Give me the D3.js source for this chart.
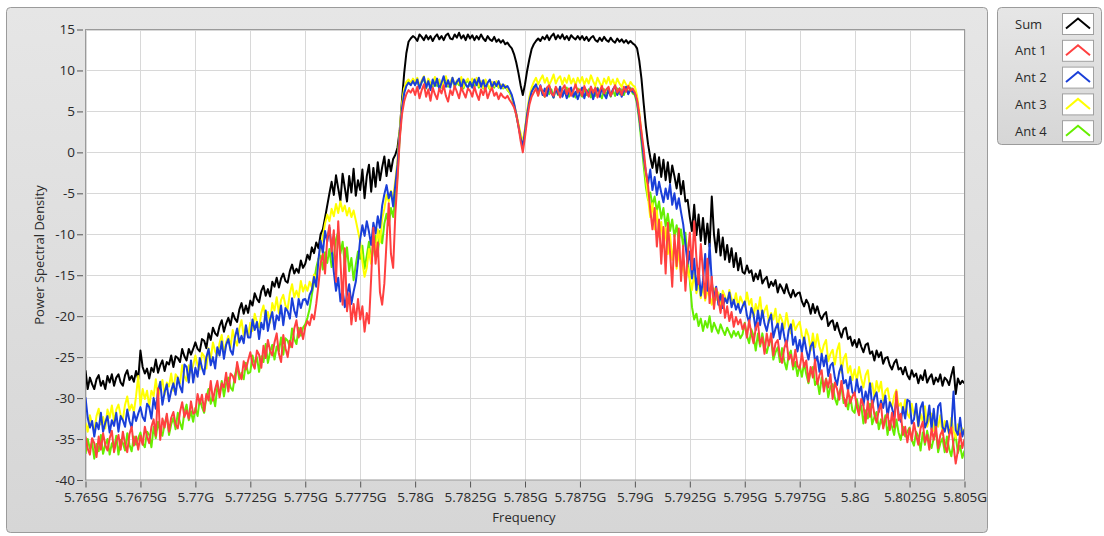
<!DOCTYPE html>
<html><head><meta charset="utf-8">
<script src="https://cdn.jsdelivr.net/npm/d3@7"></script>
<style>
body{margin:0;background:#fff;}
svg{display:block;font-family:"Open Sans","Noto Sans",sans-serif;}
</style>
</head><body>
<svg id="chart" width="1104" height="536"></svg>
<script>
// ---------- data ----------
const freqStartMHz = 5765;
const freqStepMHz = 0.1;
const xTicks = [5.765,5.7675,5.77,5.7725,5.775,5.7775,5.78,5.7825,5.785,5.7875,5.79,5.7925,5.795,5.7975,5.8,5.8025,5.805];
const xTickLabels = ["5.765G","5.7675G","5.77G","5.7725G","5.775G","5.7775G","5.78G","5.7825G","5.785G","5.7875G","5.79G","5.7925G","5.795G","5.7975G","5.8G","5.8025G","5.805G"];
const yTicks = [15,10,5,0,-5,-10,-15,-20,-25,-30,-35,-40];
const seriesNames = ["Sum","Ant 1","Ant 2","Ant 3","Ant 4"];
const seriesColors = ["#000000","#ff4040","#1a3fd8","#ffff00","#66ee00"];

const sumPSD = [
-26.6,-28.9,-27.5,-28.3,-28.9,-27.7,-27.2,-28.5,-27.9,-28.9,-27.3,-28.1,-27.1,-28.5,-27.5,-27.1,-28.1,-28.5,-27.2,-26.6,-27.8,-27.3,-28.0,-26.7,-27.7,
-24.2,-26.2,-27.0,-26.4,-27.6,-26.3,-26.8,-25.3,-26.9,-26.0,-25.4,-26.7,-25.6,-25.9,-24.8,-26.2,-24.9,-25.1,-25.6,-24.0,-24.9,-25.4,-24.0,-24.7,-24.0,
-23.2,-24.0,-24.3,-22.8,-23.0,-23.9,-22.1,-22.9,-21.4,-22.1,-22.4,-21.2,-20.5,-21.9,-20.9,-20.2,-21.1,-19.6,-20.3,-20.7,-19.2,-18.4,-19.7,-18.7,-19.6,
-18.1,-18.7,-17.2,-17.9,-18.3,-16.9,-16.3,-17.5,-16.7,-17.6,-15.8,-16.4,-15.3,-16.5,-15.4,-14.8,-15.7,-15.9,-14.5,-13.7,-14.8,-14.2,-14.7,-13.2,-14.1,
-13.6,-12.5,-13.1,-11.6,-12.3,-11.0,-11.7,-10.0,-9.4,-8.0,-6.5,-5.0,-3.6,-5.2,-2.8,-4.4,-5.9,-2.6,-4.3,-6.0,-2.9,-4.9,-2.0,-5.3,-3.4,
-4.6,-2.1,-5.6,-2.9,-1.5,-4.8,-1.9,-4.2,-1.2,-3.4,-1.8,-0.5,-2.9,-0.9,-2.3,-0.8,-0.3,0.6,2.7,6.3,9.6,12.1,13.5,13.9,14.2,
14.0,13.6,14.4,14.1,13.7,14.3,13.8,14.2,13.6,14.1,14.4,13.8,14.2,13.7,14.3,14.5,13.9,13.8,14.4,14.0,14.6,13.9,14.3,13.7,14.4,
13.9,14.3,13.7,14.2,13.8,14.4,13.9,13.6,14.2,13.8,13.6,14.1,13.5,13.8,13.4,13.7,13.2,13.4,13.0,12.7,12.0,11.0,9.7,8.2,7.0,
8.3,10.0,11.4,12.6,13.2,13.6,13.9,13.6,14.1,13.8,14.3,13.7,14.2,14.5,13.8,14.3,13.9,14.4,13.8,14.2,13.7,14.3,14.0,13.8,14.2,
13.8,14.2,13.7,14.1,13.6,14.0,14.2,13.7,13.5,14.0,13.6,14.1,13.7,13.5,14.0,13.6,13.4,13.9,13.5,13.8,13.4,13.7,13.3,13.6,13.3,
13.1,12.7,11.2,9.0,6.0,3.2,1.0,-0.6,-1.9,-0.2,-2.5,-0.6,-3.0,-0.9,-3.4,-1.2,-3.7,-1.6,-2.9,-4.4,-2.6,-5.1,-3.5,-6.0,-5.8,
-7.9,-9.6,-6.4,-10.1,-7.6,-10.8,-8.0,-11.2,-8.7,-11.5,-5.4,-10.0,-12.2,-9.4,-12.6,-10.4,-13.1,-11.3,-13.4,-11.7,-14.0,-12.3,-14.4,-12.9,-14.6,
-14.8,-13.8,-14.7,-14.4,-15.7,-14.8,-15.5,-14.4,-16.0,-15.5,-15.2,-16.5,-15.8,-16.3,-15.6,-17.1,-16.1,-16.6,-17.2,-16.1,-17.1,-17.7,-16.8,-17.6,-17.2,
-17.1,-18.2,-18.8,-18.0,-18.5,-19.7,-18.5,-19.6,-18.8,-19.8,-20.4,-19.8,-19.5,-21.2,-20.7,-20.5,-21.7,-20.8,-21.8,-22.6,-21.6,-21.4,-22.8,-22.5,-23.6,
-22.9,-23.8,-22.8,-23.7,-24.4,-23.5,-23.3,-24.6,-24.3,-25.4,-24.2,-25.0,-24.4,-25.8,-25.1,-25.0,-26.0,-26.5,-25.7,-25.3,-26.5,-26.3,-27.1,-26.2,-27.2,
-27.7,-26.6,-27.4,-27.0,-28.2,-27.2,-27.8,-26.6,-28.1,-27.5,-27.1,-28.3,-27.5,-28.0,-27.1,-28.5,-27.5,-27.8,-28.4,-27.2,-26.2,-29.5,-27.6,-28.3,-27.9,
-28.2];

const ant1PSD = [
-34.7,-36.2,-36.9,-34.9,-35.5,-37.2,-34.7,-36.3,-34.3,-35.7,-36.4,-34.9,-34.0,-36.6,-35.3,-34.5,-36.3,-34.1,-35.6,-36.6,-34.4,-33.5,-35.8,-34.7,-36.3,
-34.6,-35.7,-33.5,-34.7,-35.5,-33.5,-32.6,-34.6,-28.8,-35.1,-32.5,-33.6,-31.9,-34.1,-32.4,-31.7,-33.2,-33.7,-31.7,-30.5,-32.3,-31.5,-32.5,-30.4,-31.9,
-31.7,-29.5,-30.7,-29.6,-31.6,-29.5,-30.3,-27.9,-30.3,-28.9,-27.9,-29.9,-28.2,-28.7,-26.9,-29.2,-27.0,-27.3,-28.1,-25.6,-27.0,-27.7,-25.5,-26.5,-25.4,
-24.4,-25.8,-26.4,-24.2,-24.7,-26.3,-23.6,-25.1,-22.9,-24.2,-24.8,-23.2,-22.1,-24.6,-25.6,-22.3,-23.9,-25.0,-23.0,-23.8,-21.5,-20.5,-22.6,-21.4,-22.8,
-21.3,-20.6,-21.1,-19.8,-20.4,-18.5,-16.2,-13.5,-12.4,-14.8,-10.6,-8.9,-12.1,-9.5,-15.8,-8.4,-13.2,-18.6,-11.7,-19.4,-17.2,-21.0,-18.5,-20.6,-17.9,
-20.4,-18.8,-21.9,-19.6,-20.9,-15.3,-9.2,-13.6,-11.0,-17.1,-18.6,-16.0,-10.9,-6.2,-12.4,-14.1,-7.5,-3.2,1.6,4.6,6.2,7.1,7.6,7.3,7.8,
7.0,8.0,6.6,7.6,8.3,6.8,7.7,6.3,7.9,7.1,6.5,7.8,7.2,8.2,6.9,6.2,7.6,7.0,8.1,7.4,6.6,7.9,7.3,6.7,7.8,
7.5,6.8,8.0,7.1,6.4,7.7,7.0,7.9,6.6,7.4,7.9,6.9,7.3,6.5,7.2,6.8,6.6,6.9,6.4,6.0,5.5,4.6,3.2,1.4,0.0,
1.9,4.1,5.8,6.8,7.3,7.8,6.9,8.1,7.4,6.8,7.9,8.2,7.2,6.9,8.0,7.5,6.7,7.7,8.2,7.1,7.8,6.9,7.5,8.3,7.3,
7.7,6.9,8.1,7.4,6.8,8.0,7.3,7.9,6.7,7.5,8.1,7.2,7.7,8.0,6.9,7.5,8.2,7.3,7.8,7.0,8.0,7.4,8.1,7.5,7.8,
7.3,6.4,4.6,2.5,0.4,-2.3,-4.1,-7.0,-9.4,-6.8,-11.5,-8.2,-13.6,-9.1,-14.8,-8.6,-12.2,-16.4,-10.1,-13.9,-9.3,-15.7,-11.4,-16.9,-12.6,
-9.8,-14.3,-8.4,-12.9,-16.1,-11.2,-14.6,-17.8,-13.0,-18.4,-15.2,-19.1,-16.6,-18.0,-19.6,-17.4,-20.2,-18.8,-20.6,-19.5,-21.3,-20.1,-21.0,-20.4,-21.6,
-20.9,-22.6,-20.5,-22.1,-23.3,-21.5,-20.8,-23.4,-22.6,-24.6,-22.1,-23.6,-22.1,-24.8,-23.3,-22.9,-24.8,-25.7,-23.9,-23.0,-25.3,-24.7,-26.1,-24.1,-26.1,
-26.4,-24.5,-26.2,-25.4,-28.0,-26.2,-27.5,-25.3,-28.3,-27.2,-26.6,-29.2,-27.7,-28.7,-27.1,-30.1,-28.1,-28.9,-30.2,-27.9,-29.8,-31.0,-29.0,-30.6,-29.8,
-29.3,-31.1,-32.1,-30.1,-30.9,-33.0,-30.4,-32.3,-30.3,-32.0,-33.0,-31.5,-30.7,-33.7,-32.6,-31.9,-33.9,-31.8,-33.6,-29.2,-32.7,-31.9,-34.5,-33.5,-35.4,
-33.7,-35.2,-33.0,-34.5,-35.7,-33.7,-32.9,-35.4,-34.5,-36.3,-33.7,-35.1,-33.5,-36.1,-34.5,-33.9,-35.8,-36.6,-34.6,-33.6,-35.8,-38.0,-36.4,-34.3,-36.1,
-35.0];

const ant2PSD = [
-29.9,-32.4,-33.6,-32.8,-34.7,-33.0,-33.8,-31.8,-34.1,-33.0,-32.2,-34.2,-32.7,-33.4,-31.8,-34.1,-32.2,-32.7,-33.5,-31.4,-32.8,-33.6,-31.7,-32.8,-31.9,
-31.1,-32.3,-32.8,-30.7,-31.1,-32.5,-30.0,-31.3,-29.2,-28.0,-30.8,-29.3,-28.3,-30.4,-29.1,-28.2,-29.6,-27.5,-28.6,-29.3,-25.9,-26.2,-28.1,-25.4,-28.1,
-26.3,-27.4,-25.1,-26.3,-27.1,-25.0,-24.0,-26.0,-25.0,-26.4,-23.8,-24.8,-23.1,-25.2,-23.5,-22.8,-24.2,-24.7,-22.6,-21.5,-23.2,-22.4,-23.3,-21.1,-22.6,
-22.6,-20.4,-21.7,-20.7,-22.8,-20.8,-21.6,-19.3,-21.8,-20.4,-19.5,-21.6,-19.9,-20.5,-18.7,-21.1,-19.0,-19.4,-20.3,-17.8,-19.3,-20.1,-17.9,-19.0,-18.0,
-17.9,-18.6,-17.4,-16.8,-15.2,-16.4,-13.1,-10.8,-12.3,-9.6,-10.9,-9.2,-11.8,-14.6,-16.9,-15.3,-18.2,-16.7,-18.9,-17.4,-16.1,-18.5,-17.0,-15.8,-13.4,
-10.6,-8.9,-10.2,-8.4,-9.7,-11.3,-8.6,-9.9,-7.8,-9.2,-6.5,-5.1,-4.0,-5.6,-4.8,-6.6,-3.9,-1.5,2.2,5.3,7.2,8.1,8.5,8.2,8.7,
8.2,8.9,7.8,8.6,9.2,7.9,8.7,7.6,8.9,8.1,9.0,7.7,8.5,9.3,8.0,8.8,7.9,9.1,8.2,8.6,9.0,7.8,8.9,8.3,7.9,
8.6,7.9,8.9,8.2,9.1,8.0,8.8,7.8,8.5,8.9,7.9,8.6,8.1,8.7,7.8,8.3,7.9,8.1,7.6,7.0,6.0,4.7,3.2,1.8,0.7,
2.6,4.7,6.3,7.4,7.9,8.3,7.4,8.2,7.0,7.8,6.9,8.1,7.3,6.7,7.8,7.1,8.0,6.8,7.6,6.6,7.5,7.9,6.8,7.4,6.5,
7.3,7.9,6.6,7.6,6.9,8.0,6.5,7.4,7.8,6.8,7.9,7.1,6.6,7.6,6.9,7.7,8.1,7.0,7.8,6.8,7.5,8.0,7.1,7.7,7.4,
7.2,6.2,4.3,1.9,-0.6,-2.4,-3.8,-2.1,-4.6,-3.0,-5.2,-3.6,-4.9,-6.1,-4.4,-5.7,-3.9,-6.4,-5.0,-6.9,-5.6,-7.3,-8.8,-11.2,-13.6,
-12.1,-15.4,-13.0,-16.8,-14.2,-17.5,-15.6,-12.4,-16.9,-11.2,-15.8,-17.9,-16.4,-18.6,-17.3,-19.0,-17.8,-18.4,-17.1,-18.9,-18.0,-19.2,-18.5,-19.6,-18.8,
-18.2,-19.9,-20.8,-19.0,-19.8,-21.7,-19.3,-21.1,-19.3,-20.9,-21.8,-20.5,-19.8,-22.6,-21.5,-20.9,-22.8,-20.9,-22.5,-23.7,-21.7,-21.0,-23.5,-22.5,-24.3,
-22.9,-24.4,-22.6,-24.1,-25.3,-23.7,-23.2,-25.6,-24.9,-26.8,-24.6,-26.1,-24.8,-27.3,-26.0,-25.7,-27.5,-28.4,-26.8,-26.0,-28.2,-27.8,-29.1,-27.4,-29.3,
-29.6,-27.7,-29.3,-28.6,-30.9,-29.2,-30.3,-28.2,-31.0,-29.9,-29.3,-31.7,-30.3,-31.2,-29.7,-32.3,-30.5,-31.2,-32.3,-30.1,-31.9,-32.9,-31.1,-32.5,-30.2,
-30.4,-33.1,-32.6,-30.7,-33.4,-31.2,-30.5,-33.6,-32.9,-30.9,-33.8,-31.3,-34.0,-31.0,-30.6,-33.5,-34.1,-32.8,-34.3,-33.6,-29.2,-33.9,-34.5,-32.4,-34.7,
-33.8];

const ant3PSD = [
-33.0,-34.1,-32.1,-33.2,-34.0,-32.2,-31.3,-33.2,-32.3,-33.7,-31.4,-32.4,-30.9,-32.9,-31.4,-30.8,-32.1,-32.6,-30.8,-29.8,-31.5,-30.8,-31.7,-29.8,-27.3,
-30.9,-28.9,-30.1,-29.1,-31.0,-29.1,-29.8,-27.7,-29.9,-28.7,-27.8,-29.6,-28.1,-28.6,-27.0,-29.1,-27.1,-27.5,-28.2,-26.0,-27.3,-27.9,-26.0,-26.9,-26.0,
-24.8,-26.0,-26.5,-24.5,-24.9,-26.4,-23.9,-25.2,-23.2,-24.3,-24.8,-23.3,-22.3,-24.5,-23.2,-22.4,-23.8,-21.7,-22.9,-23.6,-21.5,-20.5,-22.4,-21.2,-22.5,
-20.8,-21.8,-19.7,-20.7,-21.4,-19.6,-18.7,-20.5,-19.5,-20.8,-18.4,-19.3,-17.7,-19.6,-18.0,-17.4,-18.7,-19.1,-17.2,-16.1,-17.7,-16.9,-17.7,-15.7,-17.0,
-16.2,-16.9,-15.8,-16.5,-14.9,-15.6,-13.2,-11.4,-10.3,-8.7,-7.6,-8.4,-6.9,-7.8,-6.3,-7.4,-6.0,-7.2,-6.5,-7.7,-6.8,-7.9,-7.1,-8.3,-9.6,
-10.9,-13.4,-15.2,-14.1,-11.8,-13.6,-10.5,-12.2,-9.4,-11.0,-8.1,-6.9,-5.2,-6.0,-4.7,-5.5,-3.4,-0.9,2.8,5.9,7.8,8.6,8.9,8.5,9.0,
8.6,9.1,8.1,8.8,9.3,8.0,9.0,8.5,8.2,9.2,8.4,8.9,8.0,8.7,9.3,8.2,8.6,9.1,8.1,8.8,8.4,9.2,8.0,8.7,9.0,
8.3,9.0,8.4,9.1,8.1,8.7,7.9,8.9,8.3,7.8,8.6,8.1,8.7,8.0,8.3,7.9,8.2,7.7,7.4,6.8,5.9,4.8,3.5,2.3,1.2,
2.9,5.0,6.8,7.9,8.6,9.1,8.3,8.9,9.4,8.5,9.1,8.2,8.8,9.5,8.4,9.0,9.3,8.3,9.1,8.5,9.4,8.4,9.0,8.2,9.1,
8.5,9.2,8.3,9.0,8.4,9.4,8.7,8.1,9.1,8.5,8.0,9.0,8.4,9.2,8.3,8.9,8.1,9.0,8.4,8.0,8.8,8.3,8.0,8.6,8.2,
8.0,6.9,4.9,2.4,-0.3,-3.1,-5.6,-7.9,-6.2,-9.4,-7.1,-10.3,-8.5,-11.6,-9.2,-12.4,-10.0,-13.1,-11.3,-14.2,-12.0,-14.8,-13.5,-15.9,-14.1,
-15.3,-16.8,-14.7,-17.2,-15.9,-17.8,-16.4,-18.1,-16.9,-17.5,-18.6,-16.6,-18.0,-17.1,-18.8,-16.9,-17.6,-18.4,-16.8,-17.9,-18.5,-17.2,-18.9,-17.6,-18.3,
-18.8,-17.1,-18.6,-17.9,-20.1,-18.5,-19.5,-17.7,-20.2,-19.3,-18.7,-20.8,-19.6,-20.4,-19.1,-21.5,-19.8,-20.5,-21.5,-19.6,-21.2,-22.1,-20.5,-21.7,-21.1,
-20.7,-22.3,-23.2,-21.6,-22.4,-24.2,-22.1,-23.8,-22.2,-23.7,-24.6,-23.5,-22.9,-25.5,-24.6,-24.1,-25.9,-24.2,-23.3,-26.9,-25.2,-24.6,-26.9,-26.1,-27.8,
-26.5,-27.9,-26.2,-27.6,-28.7,-27.2,-26.6,-28.8,-28.2,-29.9,-27.9,-29.2,-28.0,-30.3,-29.1,-28.8,-30.4,-31.2,-29.7,-29.0,-31.0,-30.6,-31.8,-30.2,-31.9,
-32.4,-30.7,-32.1,-31.4,-33.5,-31.9,-32.9,-31.0,-33.5,-32.5,-31.9,-34.0,-32.7,-33.5,-32.1,-34.5,-32.8,-33.4,-34.4,-32.4,-34.0,-34.9,-33.2,-34.4,-33.7,
-34.2];

const ant4PSD = [
-36.8,-35.0,-36.2,-35.4,-37.4,-35.6,-36.5,-34.5,-36.8,-35.7,-35.0,-36.9,-35.5,-36.2,-34.6,-36.9,-35.1,-35.5,-36.4,-34.3,-35.7,-36.5,-34.7,-35.7,-34.9,
-34.2,-35.5,-36.0,-34.1,-34.5,-36.0,-33.5,-34.9,-32.9,-34.1,-34.6,-33.2,-32.2,-34.5,-33.2,-32.4,-33.8,-31.8,-33.0,-33.8,-31.7,-30.8,-32.7,-31.6,-32.9,
-31.2,-32.2,-30.1,-31.1,-31.8,-29.9,-28.9,-30.7,-29.7,-31.0,-28.6,-29.5,-27.9,-29.8,-28.2,-27.5,-28.7,-29.1,-27.2,-26.1,-27.7,-26.9,-27.7,-25.7,-27.0,
-26.8,-24.8,-25.9,-25.0,-26.8,-24.9,-25.6,-23.4,-25.7,-24.4,-23.5,-25.3,-23.7,-24.3,-22.6,-24.7,-22.7,-23.0,-23.8,-21.5,-22.8,-23.4,-21.4,-22.4,-21.4,
-21.0,-20.2,-19.1,-17.4,-15.8,-14.1,-13.0,-12.6,-14.3,-12.2,-13.5,-11.8,-14.0,-12.7,-10.6,-9.7,-12.4,-10.9,-13.8,-11.6,-14.5,-12.9,-15.6,-13.7,-12.1,
-13.0,-11.4,-14.2,-12.6,-10.9,-13.5,-11.7,-10.2,-12.4,-9.6,-11.1,-8.7,-7.5,-8.9,-6.8,-7.9,-5.6,-2.8,1.9,5.4,7.6,8.4,8.7,8.3,8.8,
8.3,8.8,7.9,8.6,9.0,7.8,8.9,8.2,8.0,9.1,8.1,8.8,7.9,8.7,9.0,8.0,8.5,8.9,7.9,8.6,8.2,9.0,7.8,8.5,8.8,
8.1,8.8,8.0,8.9,7.9,8.6,7.8,8.8,8.2,7.7,8.5,7.9,8.6,7.9,8.2,7.8,8.1,7.6,7.3,6.7,5.8,4.6,3.3,2.0,1.0,
2.7,4.8,6.5,7.5,8.0,7.8,7.0,8.0,7.2,6.8,7.9,7.1,7.7,6.7,7.8,7.0,8.0,6.9,7.5,7.9,6.8,7.7,7.1,6.7,7.8,
7.1,6.8,7.8,7.0,7.7,6.7,7.6,6.9,7.9,7.1,6.6,7.7,7.0,7.8,6.8,7.6,6.9,7.8,7.1,7.7,7.0,7.8,7.2,7.9,7.2,
7.0,5.9,3.8,1.2,-1.6,-4.2,-5.8,-4.9,-6.5,-5.4,-7.2,-6.0,-8.1,-6.8,-9.0,-7.5,-9.6,-8.2,-10.3,-8.9,-10.8,-9.4,-11.5,-9.8,-13.2,
-15.6,-18.9,-20.4,-19.7,-21.2,-20.3,-21.8,-20.6,-21.4,-20.0,-21.9,-20.8,-21.5,-22.1,-21.0,-21.7,-22.3,-21.4,-22.0,-22.6,-21.8,-22.4,-21.9,-22.7,-22.2,
-20.8,-22.4,-23.3,-21.6,-22.4,-24.2,-22.1,-23.7,-22.1,-23.6,-24.5,-23.3,-22.7,-25.3,-24.4,-23.8,-25.6,-23.9,-25.5,-26.5,-24.8,-24.2,-26.5,-25.6,-27.3,
-26.0,-27.4,-25.7,-27.1,-28.2,-26.7,-26.2,-28.4,-27.8,-29.5,-27.5,-28.8,-27.6,-29.9,-28.6,-28.3,-30.0,-30.8,-29.3,-28.6,-30.6,-30.2,-31.4,-29.8,-31.5,
-31.8,-30.1,-31.6,-30.9,-33.1,-31.5,-32.5,-30.7,-33.2,-32.3,-31.7,-33.8,-32.6,-33.4,-32.1,-34.5,-32.8,-33.5,-34.5,-32.6,-34.2,-35.1,-33.5,-34.7,-34.1,
-33.6,-35.1,-35.8,-34.1,-34.7,-36.4,-34.2,-35.7,-34.0,-35.3,-36.1,-34.9,-34.1,-36.6,-35.5,-34.9,-36.6,-34.7,-36.2,-37.1,-35.3,-34.6,-36.7,-35.8,-37.3,
-36.4];

const seriesValues = [sumPSD, ant1PSD, ant2PSD, ant3PSD, ant4PSD];

// ---------- layout ----------
const svg = d3.select("#chart");
const plot = {left: 85.5, right: 964.5, top: 29.5, bottom: 480};
const x = d3.scaleLinear().domain([5.765, 5.805]).range([plot.left, plot.right]);
const y = d3.scaleLinear().domain([-40, 15]).range([plot.bottom, plot.top]);
const textColor = "#2a2a2a";

// panel
const defs = svg.append("defs");
const grad = defs.append("linearGradient").attr("id","pg").attr("x1",0).attr("y1",0).attr("x2",0).attr("y2",1);
grad.append("stop").attr("offset","0%").attr("stop-color","#e6e6e6");
grad.append("stop").attr("offset","100%").attr("stop-color","#d6d6d6");
svg.append("rect").attr("x",6.5).attr("y",7.5).attr("width",981).attr("height",525)
  .attr("rx",4).attr("fill","url(#pg)").attr("stroke","#9b9b9b");

// plot background
svg.append("rect").attr("x",plot.left).attr("y",plot.top)
  .attr("width",plot.right-plot.left).attr("height",plot.bottom-plot.top).attr("fill","#ffffff");

// grid
const grid = svg.append("g").attr("stroke","#d8d8d8").attr("stroke-width",1);
grid.selectAll("line.v").data(xTicks).join("line").attr("class","v")
  .attr("x1",d=>Math.round(x(d))+0.5).attr("x2",d=>Math.round(x(d))+0.5)
  .attr("y1",plot.top).attr("y2",plot.bottom);
grid.selectAll("line.h").data(yTicks).join("line").attr("class","h")
  .attr("y1",d=>Math.round(y(d))+0.5).attr("y2",d=>Math.round(y(d))+0.5)
  .attr("x1",plot.left).attr("x2",plot.right);

// clip
defs.append("clipPath").attr("id","clip").append("rect")
  .attr("x",plot.left).attr("y",plot.top).attr("width",plot.right-plot.left).attr("height",plot.bottom-plot.top);

// lines
const line = d3.line()
  .x((d,i)=>x((freqStartMHz + i*freqStepMHz)/1000))
  .y(d=>y(d));
const drawOrder = [0,4,3,2,1];
const lines = svg.append("g").attr("clip-path","url(#clip)");
drawOrder.forEach(k=>{
  lines.append("path").datum(seriesValues[k])
    .attr("fill","none").attr("stroke",seriesColors[k])
    .attr("stroke-width",2).attr("stroke-linejoin","round")
    .attr("d",line);
});

// plot frame
svg.append("rect").attr("x",plot.left).attr("y",plot.top)
  .attr("width",plot.right-plot.left).attr("height",plot.bottom-plot.top)
  .attr("fill","none").attr("stroke","#9a9a9a");

// axes
const yAxis = d3.axisLeft(y).tickValues(yTicks).tickSize(6).tickPadding(2).tickFormat(d=>String(d));
const gy = svg.append("g").attr("transform","translate(83,0)").call(yAxis);
gy.select(".domain").remove();
gy.selectAll("line").attr("stroke","#555");
gy.selectAll("text").attr("fill",textColor).attr("font-size","13.5px");

const xAxis = d3.axisBottom(x).tickValues(xTicks).tickSize(6).tickPadding(5).tickFormat((d,i)=>xTickLabels[i]);
const gx = svg.append("g").attr("transform","translate(0,481.5)").call(xAxis);
gx.select(".domain").remove();
gx.selectAll("line").attr("stroke","#555");
gx.selectAll("text").attr("fill",textColor).attr("font-size","13.5px");
svg.selectAll(".tick text").attr("font-family","'Open Sans','Noto Sans',sans-serif");

// axis titles
svg.append("text").attr("x",524).attr("y",522).attr("text-anchor","middle")
  .attr("fill",textColor).attr("font-size","13px").text("Frequency");
svg.append("text").attr("transform","translate(44,255) rotate(-90)").attr("text-anchor","middle")
  .attr("fill",textColor).attr("font-size","13px").text("Power Spectral Density");

// legend
const lg = svg.append("g");
lg.append("rect").attr("x",997.5).attr("y",7.5).attr("width",104).attr("height",137)
  .attr("rx",4).attr("fill","url(#pg)").attr("stroke","#9b9b9b");
seriesNames.forEach((name,k)=>{
  const top = 13.5 + k*26.8;
  lg.append("text").attr("x",1015).attr("y",top+15).attr("fill",textColor)
    .attr("font-size","13px").text(name);
  lg.append("rect").attr("x",1062.5).attr("y",top).attr("width",31).attr("height",21)
    .attr("fill","#ffffff").attr("stroke","#a0a0a0");
  lg.append("path").attr("d",`M1066,${top+15}L1078,${top+5}L1090,${top+15}`)
    .attr("fill","none").attr("stroke",seriesColors[k]).attr("stroke-width",2);
});
</script>
</body></html>
